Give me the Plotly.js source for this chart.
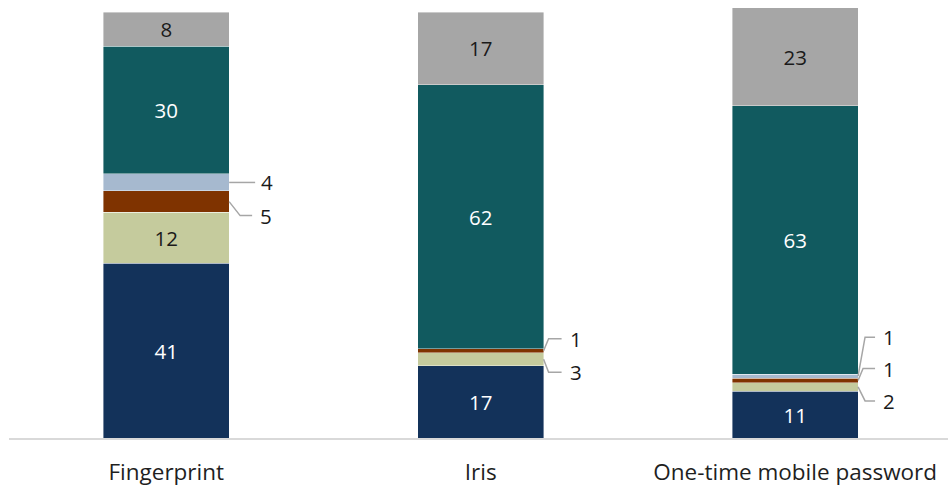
<!DOCTYPE html>
<html>
<head>
<meta charset="utf-8">
<script src="https://cdn.plot.ly/plotly-3.0.1.min.js"></script>
<style>
  html, body { margin: 0; padding: 0; background: #ffffff; }
  #chart { width: 948px; height: 488px; }
</style>
</head>
<body>
<div id="chart"></div>
<script>
// Categories along the x axis
const categories = ['Fingerprint', 'Iris', 'One-time mobile password'];

// Stacked segment values (bottom to top), percent
const seriesNavy      = [41, 17, 11];
const seriesKhaki     = [12, 3, 2];
const seriesBrown     = [5, 1, 1];
const seriesLightBlue = [4, 0, 1];
const seriesTeal      = [30, 62, 63];
const seriesGray      = [8, 17, 23];

const stack = [
  { name: 'Segment 1', values: seriesNavy,      color: '#13325a', text: '#ffffff' },
  { name: 'Segment 2', values: seriesKhaki,     color: '#c5cb9d', text: '#1a1a1a' },
  { name: 'Segment 3', values: seriesBrown,     color: '#7f3300', text: '#ffffff' },
  { name: 'Segment 4', values: seriesLightBlue, color: '#a6b9cf', text: '#1a1a1a' },
  { name: 'Segment 5', values: seriesTeal,      color: '#115a5f', text: '#ffffff' },
  { name: 'Segment 6', values: seriesGray,      color: '#a6a6a6', text: '#1a1a1a' }
];

const BAR_WIDTH = 0.4;
const INSIDE_MIN = 8;          // smaller segments get a leader-line label
const FONT = 'Open Sans, Noto Sans, sans-serif';

const traces = stack.map(s => ({
  type: 'bar',
  name: s.name,
  x: categories,
  y: s.values,
  width: BAR_WIDTH,
  marker: { color: s.color, line: { color: 'rgba(255,255,255,0.55)', width: 0.75 } },
  text: s.values.map(v => (v >= INSIDE_MIN ? String(v) : '')),
  textposition: 'inside',
  insidetextanchor: 'middle',
  textangle: 0,
  constraintext: 'none',
  insidetextfont: { family: FONT, size: 20.5, color: s.text },
  hoverinfo: 'x+y+name'
}));

// Leader-line placement for the small segments: [segment, bar, rise px, bend px, end px, label offset px]
const leaders = [
  [3, 0,   0,  0, 26, 38],
  [2, 0, -14, 11, 23, 37],
  [2, 1,  12,  5, 18, 32],
  [1, 1, -13,  5, 18, 32],
  [3, 2,  39,  7, 17, 31],
  [2, 2,  12,  5, 17, 31],
  [1, 2, -14,  7, 17, 31]
];

function segmentMid(seg, bar) {
  let base = 0;
  for (let i = 0; i < seg; i++) base += stack[i].values[bar];
  return base + stack[seg].values[bar] / 2;
}

const shapes = [];
const annotations = [];
leaders.forEach(([seg, bar, rise, bend, end, off]) => {
  const v = stack[seg].values[bar];
  if (!v) return;
  const mid = segmentMid(seg, bar);
  const edge = bar + BAR_WIDTH / 2;
  shapes.push({
    type: 'path',
    xref: 'x', yref: 'y',
    xsizemode: 'pixel', ysizemode: 'pixel',
    xanchor: edge, yanchor: mid,
    path: `M0,0 L${bend},${rise} L${end},${rise}`,
    line: { color: '#a6a6a6', width: 1.5 }
  });
  annotations.push({
    x: edge, y: mid, xref: 'x', yref: 'y',
    xshift: off, yshift: rise,
    text: String(v), showarrow: false,
    xanchor: 'center', yanchor: 'middle',
    font: { family: FONT, size: 20.5, color: '#1a1a1a' }
  });
});

const layout = {
  width: 948,
  height: 488,
  barmode: 'stack',
  showlegend: false,
  paper_bgcolor: '#ffffff',
  plot_bgcolor: '#ffffff',
  margin: { l: 9, r: 0, t: 4, b: 50 },
  xaxis: {
    type: 'category',
    range: [-0.5, 2.486],
    showgrid: false,
    zeroline: false,
    showline: true,
    linecolor: '#d9d9d9',
    linewidth: 1.5,
    ticks: '',
    ticklabelstandoff: 13,
    tickfont: { family: FONT, size: 22.5, color: '#1f1f1f' },
    fixedrange: true
  },
  yaxis: {
    range: [0, 101.9],
    showgrid: false,
    zeroline: false,
    showline: false,
    showticklabels: false,
    ticks: '',
    fixedrange: true
  },
  shapes: shapes,
  annotations: annotations
};

Plotly.newPlot('chart', traces, layout, { displayModeBar: false, staticPlot: true });
</script>
</body>
</html>
